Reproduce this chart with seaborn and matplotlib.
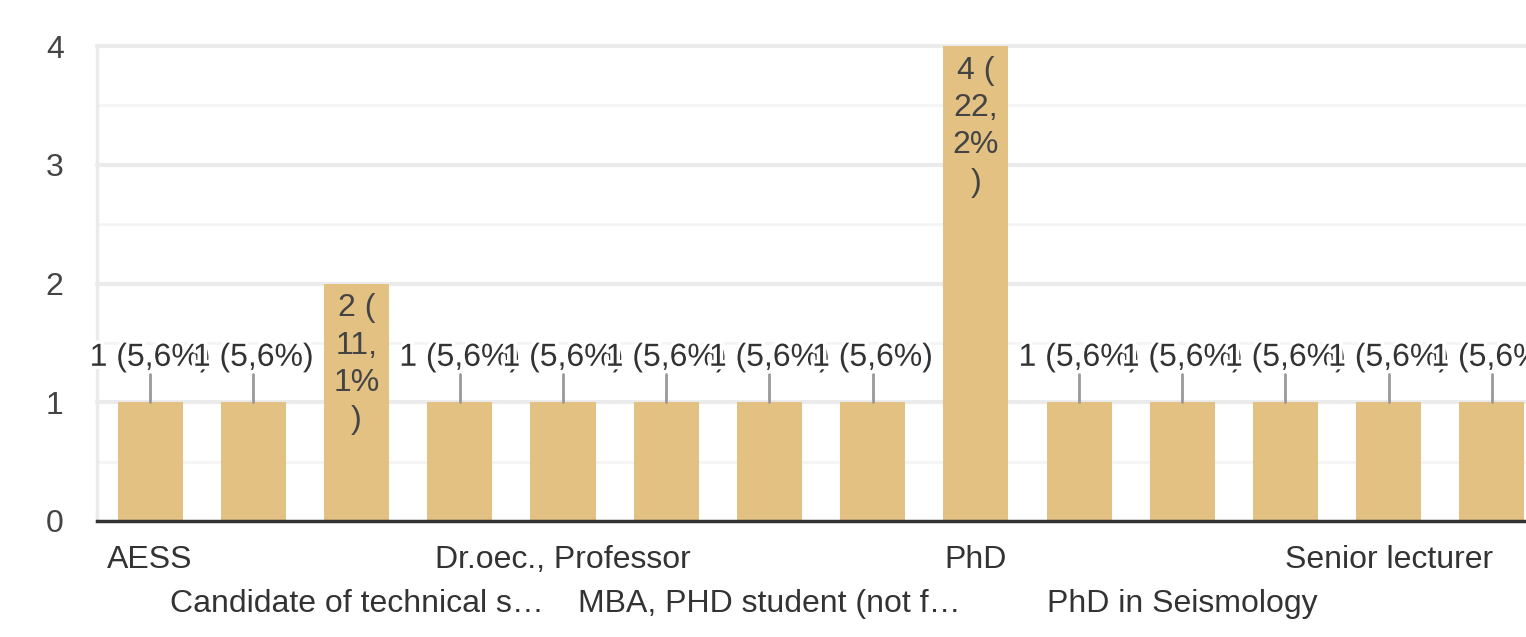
import matplotlib
matplotlib.use("Agg")
import matplotlib.pyplot as plt
import matplotlib.patheffects as pe
import numpy as np
import pandas as pd
import seaborn as sns

# Survey answers (only every other category name is printed on the axis)
tick_labels = [
    "AESS", "",
    "Candidate of technical s…", "",
    "Dr.oec., Professor", "",
    "MBA, PHD student (not f…", "",
    "PhD", "",
    "PhD in Seismology", "",
    "Senior lecturer", "",
]
counts = [1, 1, 2, 1, 1, 1, 1, 1, 4, 1, 1, 1, 1, 1]

total = sum(counts)
positions = list(range(len(counts)))
df = pd.DataFrame({"pos": positions, "count": counts})

BAR = "#E3C183"
TEXT = "#333333"
FONT = "Liberation Sans"
FS = 23

sns.set_theme(style="white")
plt.rcParams["font.family"] = [FONT, "DejaVu Sans"]

fig = plt.figure(figsize=(15.26, 6.37), dpi=100)
ax = fig.add_axes([97 / 1526, 1 - 521 / 637, 1 - 97 / 1526 + 0.002, (521 - 46) / 637])

sns.barplot(data=df, x="pos", y="count", color=BAR, saturation=1,
            width=0.63, ax=ax, zorder=3, linewidth=0)

ax.set_ylim(0, 4)
ax.set_xlim(-0.515, 13.36)

# grid: integers plus lighter half steps
for y in np.arange(0.5, 4.01, 0.5):
    major = float(y).is_integer()
    ax.axhline(y, color="#EBEBEB" if major else "#F4F4F4",
               lw=3 if major else 2, zorder=1, clip_on=False)

for s in ["top", "right"]:
    ax.spines[s].set_visible(False)
ax.spines["left"].set_color("#EBEBEB")
ax.spines["left"].set_linewidth(2.5)
ax.spines["bottom"].set_color("#333333")
ax.spines["bottom"].set_linewidth(2.5)
ax.spines["bottom"].set_zorder(5)

ax.set_yticks([0, 1, 2, 3, 4])
ax.set_yticklabels(["0", "1", "2", "3", "4"], fontsize=FS, color="#444444",
                   family=FONT)
ax.tick_params(axis="y", length=0, pad=24)

# alternate the printed labels across two rows
xt = []
for i, lab in enumerate(tick_labels):
    if lab and (i // 2) % 2 == 1:
        xt.append("\n" + lab)
    else:
        xt.append(lab)
ax.set_xticks(positions)
ax.set_xticklabels(xt, fontsize=FS, color=TEXT, family=FONT, linespacing=1.62)
ax.tick_params(axis="x", length=0, pad=17)
ax.set_xlabel("")
ax.set_ylabel("")

halo = [pe.withStroke(linewidth=5, foreground="white")]

for i, v in enumerate(counts):
    pct = f"{v / total * 100:.1f}".replace(".", ",")
    if v == 1:
        ax.plot([i, i], [v, v + 28 / 118.75], color="#999999", lw=2,
                zorder=4, clip_on=False)
        ax.annotate(f"{v} ({pct}%)", xy=(i, v), xytext=(0, 32),
                    textcoords="offset points", ha="center", va="center",
                    fontsize=FS, color=TEXT, family=FONT, zorder=6,
                    annotation_clip=False, path_effects=halo)
    else:
        whole, frac = pct.split(",")
        ax.annotate(f"{v} (\n{whole},\n{frac}%\n)",
                    xy=(i, v), xytext=(0, -7), textcoords="offset points",
                    ha="center", va="top", fontsize=FS, color="#444444",
                    family=FONT, zorder=6, linespacing=1.32,
                    annotation_clip=False)

fig.savefig("out.png", dpi=100, facecolor="white")
